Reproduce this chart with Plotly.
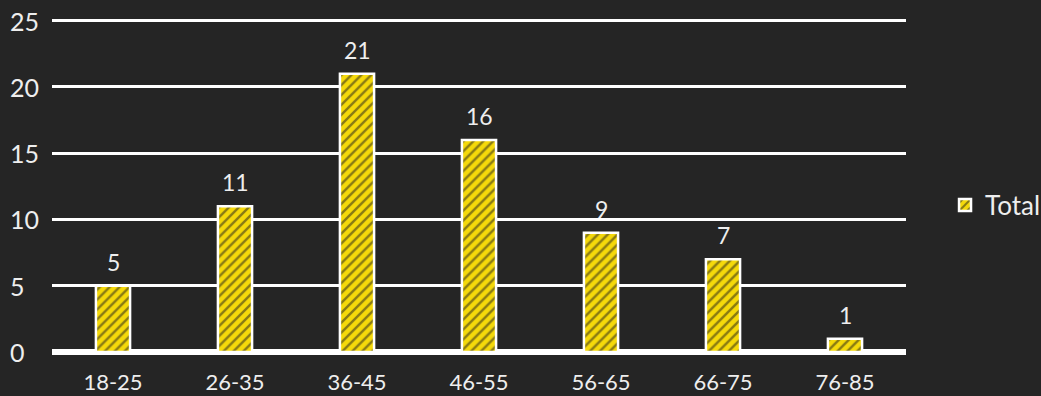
import plotly.graph_objects as go

categories = ["18-25", "26-35", "36-45", "46-55", "56-65", "66-75", "76-85"]
totals = [5, 11, 21, 16, 9, 7, 1]
y_ticks = [0, 5, 10, 15, 20, 25]

FONT = "Lato, 'Open Sans', sans-serif"
TXT = "#eeeeee"

fig = go.Figure()
fig.add_trace(go.Bar(
    x=categories, y=totals, name="Total",
    marker=dict(
        color="#f5d90a",
        line=dict(color="#ffffff", width=2.5),
        pattern=dict(shape="/", fgcolor="#1c1c1c", bgcolor="#f5d90a",
                     size=7, solidity=0.35, fillmode="overlay"),
    ),
    showlegend=True,
))

annotations = []
for c, v in zip(categories, totals):
    annotations.append(dict(x=c, y=v, xref="x", yref="y", text=str(v),
                            showarrow=False, yanchor="bottom", yshift=8,
                            font=dict(size=23, color=TXT, family=FONT)))
for t in y_ticks:
    annotations.append(dict(x=-0.0515, y=t, xref="paper", yref="y", text=str(t),
                            showarrow=False, xanchor="left", yanchor="middle",
                            font=dict(size=25, color=TXT, family=FONT)))

fig.update_layout(
    width=1041, height=396,
    paper_bgcolor="#252525", plot_bgcolor="#252525",
    margin=dict(l=52, r=135, t=18, b=44, autoexpand=False),
    bargap=0.72,
    font=dict(family=FONT, color=TXT),
    showlegend=True,
    legend=dict(x=1.0457, y=0.44, xanchor="left", yanchor="middle",
                font=dict(size=26, color=TXT, family=FONT),
                bgcolor="rgba(0,0,0,0)"),
    xaxis=dict(showgrid=False, showline=False, zeroline=False,
               tickfont=dict(size=22, color=TXT, family=FONT),
               ticks="", ticklen=0, ticklabelstandoff=15),
    yaxis=dict(range=[0, 25.2], tickvals=y_ticks, showgrid=True,
               gridcolor="#ffffff", gridwidth=2.5,
               zeroline=True, zerolinecolor="#ffffff", zerolinewidth=6,
               showline=False, ticks="", showticklabels=False),
    annotations=annotations,
)

fig.write_html("out.html")
